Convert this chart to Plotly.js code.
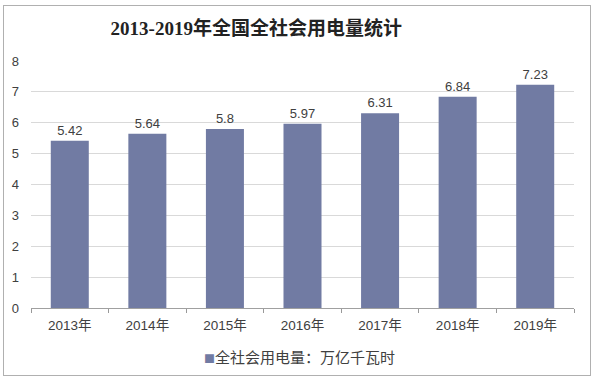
<!DOCTYPE html>
<html><head><meta charset="utf-8">
<script src="https://cdn.plot.ly/plotly-3.0.1.min.js"></script>
<style>body{margin:0;padding:0;background:#fff}#wrap{position:relative;width:596px;height:381px}#frame{position:absolute;left:3px;top:5px;width:586px;height:369px;border:1px solid #b0b0b0;pointer-events:none}</style>
</head><body>
<div id="wrap"><div id="chart" style="width:596px;height:381px"></div><div id="frame"></div></div>
<script>
const years = ["2013年","2014年","2015年","2016年","2017年","2018年","2019年"];
const consumption = [5.42, 5.64, 5.8, 5.97, 6.31, 6.84, 7.23];
const labels = ["5.42","5.64","5.8","5.97","6.31","6.84","7.23"];
const seriesName = "全社会用电量：万亿千瓦时";
const titleText = "2013-2019年全国全社会用电量统计";
const barColor = "#717ba3";

const trace = {
  type: "bar", x: years, y: consumption, name: seriesName,
  text: labels, textposition: "outside", cliponaxis: false,
  textfont: {family: "Liberation Sans, Arial, sans-serif", size: 13, color: "#404040"},
  marker: {color: barColor}, showlegend: false, hoverinfo: "none"
};
const layout = {
  width: 596, height: 381,
  margin: {l: 31, r: 22, t: 61, b: 73},
  paper_bgcolor: "#fff", plot_bgcolor: "#fff",
  bargap: 0.51,
  title: {text: "<b>" + titleText + "</b>", x: 0.43, xref: "container", xanchor: "center", y: 0.925, yref: "container", yanchor: "middle",
    font: {family: "Liberation Serif, Noto Sans CJK SC, serif", size: 19, color: "#222"}},
  xaxis: {type: "category", tickson: "boundaries", ticks: "outside", ticklen: 4, tickcolor: "#999",
    showline: true, linecolor: "#a0a0a0", linewidth: 1, showgrid: false, ticklabelstandoff: 5,
    tickfont: {family: "Liberation Sans, Noto Sans CJK SC, sans-serif", size: 13.5, color: "#404040"}, automargin: false},
  yaxis: {range: [0, 8], dtick: 1, showgrid: true, gridcolor: "#d9d9d9", zeroline: false, showline: false,
    ticks: "", ticklabelstandoff: 11,
    tickfont: {family: "Liberation Sans, Arial, sans-serif", size: 13, color: "#404040"}, automargin: false},
  annotations: [{
    xref: "paper", yref: "paper", x: 0.494, y: -0.195, xanchor: "center", yanchor: "middle", showarrow: false,
    text: "<span style='color:" + barColor + ";font-size:11px'>■</span>" + seriesName,
    font: {family: "Noto Sans CJK SC, sans-serif", size: 15, color: "#404040"}
  }]
};
Plotly.newPlot("chart", [trace], layout, {displayModeBar: false, staticPlot: true});
</script>
</body></html>
